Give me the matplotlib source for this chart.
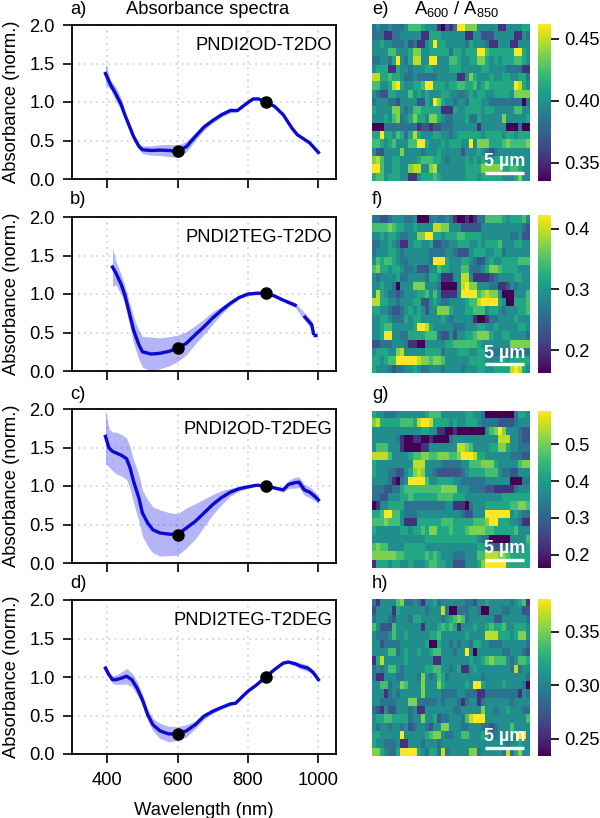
import numpy as np
import matplotlib
matplotlib.use('Agg')
import matplotlib.pyplot as plt

plt.rcParams['font.family'] = ['Liberation Sans', 'DejaVu Sans']
plt.rcParams['mathtext.default'] = 'regular'
plt.rcParams['font.size'] = 13.2

# Spectra: wavelength (nm), mean, band half width
wl_a = [395, 410, 425, 440, 450, 475, 490, 500, 525, 550, 575, 600, 625, 650, 675, 700, 725, 750, 770, 800, 815, 830, 850, 875, 900, 925, 940, 975, 1000]
abs_a = [1.37, 1.22, 1.10, 0.965, 0.835, 0.55, 0.425, 0.38, 0.37, 0.375, 0.37, 0.36, 0.42, 0.55, 0.675, 0.76, 0.835, 0.89, 0.89, 0.995, 1.04, 1.04, 1.0, 0.945, 0.835, 0.66, 0.575, 0.47, 0.345]
err_a = [0.14, 0.06, 0.09, 0.08, 0.04, 0.03, 0.04, 0.05, 0.06, 0.07, 0.08, 0.08, 0.07, 0.05, 0.04, 0.03, 0.03, 0.03, 0.02, 0.01, 0.01, 0.01, 0.01, 0.01, 0.01, 0.01, 0.01, 0.01, 0.01]

wl_b = [415, 425, 440, 450, 475, 490, 500, 525, 550, 575, 600, 625, 650, 675, 700, 725, 750, 775, 800, 825, 850, 875, 900, 934, 945, 962, 981, 986, 988, 991, 993]
abs_b = [1.35, 1.27, 1.12, 0.99, 0.53, 0.34, 0.25, 0.22, 0.23, 0.255, 0.295, 0.36, 0.47, 0.575, 0.69, 0.79, 0.88, 0.955, 1.0, 1.01, 1.01, 0.975, 0.92, 0.855, np.nan, 0.70, 0.60, 0.49, np.nan, 0.46, 0.46]
err_b = [0.25, 0.15, 0.13, 0.12, 0.17, 0.19, 0.2, 0.22, 0.2, 0.19, 0.17, 0.15, 0.12, 0.1, 0.08, 0.05, 0.03, 0.02, 0.02, 0.02, 0.02, 0.02, 0.02, 0.03, 0.03, 0.05, 0.05, 0.04, 0.03, 0.01, 0.01]

wl_c = [395, 405, 415, 425, 440, 455, 465, 475, 490, 500, 515, 530, 550, 575, 600, 625, 650, 675, 700, 725, 750, 775, 800, 825, 850, 875, 900, 915, 930, 945, 960, 975, 990, 1000]
abs_c = [1.645, 1.495, 1.45, 1.43, 1.40, 1.355, 1.235, 1.06, 0.845, 0.65, 0.52, 0.43, 0.39, 0.375, 0.37, 0.455, 0.54, 0.65, 0.76, 0.85, 0.92, 0.965, 0.99, 1.01, 1.0, 0.975, 0.95, 1.02, 1.04, 1.05, 0.95, 0.92, 0.865, 0.82]
err_c = [0.35, 0.25, 0.25, 0.27, 0.27, 0.27, 0.27, 0.28, 0.3, 0.3, 0.3, 0.3, 0.3, 0.28, 0.27, 0.26, 0.23, 0.18, 0.13, 0.09, 0.05, 0.03, 0.02, 0.01, 0.01, 0.02, 0.03, 0.05, 0.07, 0.07, 0.07, 0.07, 0.06, 0.05]

wl_d = [395, 405, 415, 425, 440, 455, 470, 485, 500, 515, 530, 550, 575, 600, 625, 650, 675, 700, 725, 750, 765, 785, 800, 825, 850, 875, 900, 915, 935, 950, 970, 985, 1000]
abs_d = [1.115, 1.03, 0.965, 0.965, 0.985, 1.01, 0.965, 0.855, 0.705, 0.51, 0.38, 0.30, 0.26, 0.265, 0.30, 0.38, 0.49, 0.555, 0.605, 0.65, 0.66, 0.75, 0.815, 0.90, 1.0, 1.095, 1.18, 1.195, 1.17, 1.14, 1.115, 1.06, 0.965]
err_d = [0.06, 0.03, 0.05, 0.06, 0.08, 0.1, 0.09, 0.09, 0.07, 0.07, 0.08, 0.1, 0.1, 0.09, 0.08, 0.05, 0.04, 0.03, 0.02, 0.02, 0.01, 0.01, 0.01, 0.01, 0.005, 0.005, 0.01, 0.02, 0.03, 0.04, 0.04, 0.03, 0.03]

mark_wl = [600, 850]
mark_a = [0.36, 1.0]
mark_b = [0.295, 1.01]
mark_c = [0.37, 1.0]
mark_d = [0.265, 1.0]

names = ['PNDI2OD-T2DO', 'PNDI2TEG-T2DO', 'PNDI2OD-T2DEG', 'PNDI2TEG-T2DEG']

# Ratio maps, 19 rows x 39 columns, read as levels 0-9 between the colourbar ends
map_e = [
    "3433433346 6654441021 3997774444 411444455",
    "3331133444 4411555444 4441144222 444441143",
    "4454433342 3114595544 4443544431 144411444",
    "4444664445 7744555553 5545559965 555559954",
    "3344359435 8844994446 6544557754 545556654",
    "4555115443 4445544445 5544444554 444333311",
    "8855655433 4333334444 4114754445 445544553",
    "6644589544 5569955545 5665564565 555559854",
    "4322554446 4545444554 4334545544 555547777",
    "3444332444 4225497544 3443555443 333333303",
    "5444477434 6655555111 5445555455 444446644",
    "4445467345 7554775433 4445335444 447444445",
    "0003333333 3122122333 4444441444 444000300",
    "5595546535 8544455443 4555555455 554554555",
    "6654564446 6995444545 5544947775 556766667",
    "4224444744 4434445444 4424445432 344444444",
    "7864455444 4566655434 4445454544 555544444",
    "9964455447 8844784444 4445555777 775566544",
    "5664555441 1455565444 4445554555 554445744",
]
map_f = [
    "3322344433 4000343343 1001013366 665455564",
    "6666765544 5444488774 4422222444 444444432",
    "4454554334 4779955455 5665555444 444433422",
    "3344543114 5544522334 4555445455 564445544",
    "3444554344 4444333344 3222455544 553444444",
    "4656654334 4444399954 4455432245 445555666",
    "6755455433 4222446554 4466333457 765555444",
    "4344445334 4443554111 4488411112 344445544",
    "4454430444 7774443000 0489774443 311243444",
    "4854332344 4556464111 1499996787 740004446",
    "8855443444 5522454334 4445668999 954005556",
    "5544322345 4542447775 4445566645 543444556",
    "4455433354 5544444543 4444410013 344445444",
    "4456644444 5998544444 3334445544 544444554",
    "4459944335 5556663224 2445567775 445544443",
    "2233344431 1004444455 6666665444 444477777",
    "4555447844 4445555344 4555445533 333333333",
    "5545669999 9877677644 4444555544 445455555",
    "5444323344 5433444344 4434445544 555589854",
]
map_g = [
    "5443334444 4445666444 4445544300 000003554",
    "7855555666 5899855554 5445554333 322223444",
    "4444444444 4455441100 1000000046 797444322",
    "4444443100 1100100003 4444444444 488844322",
    "4666444100 0011444444 4887644445 577544333",
    "8888644445 6677667776 6799985544 444433322",
    "5444444444 8884444333 3344666777 544444677",
    "5444332245 7874432222 2234555566 643322444",
    "4444310349 9996445555 4433333344 444400033",
    "3332233566 6666666777 7444333322 111113444",
    "3322444556 5555556666 5554444444 445555555",
    "0144555533 3333333344 1110344455 555566776",
    "5569966433 3444444444 4432244499 999945433",
    "6667666411 1555555666 5555566679 955544311",
    "5444444554 5565775556 5556777766 555556444",
    "4444444444 4445555555 5555554330 000044446",
    "6766444455 5554444444 4444445533 223344445",
    "7777776655 5556565444 3334446688 877655555",
    "1555455445 4445665544 2224445799 999555555",
]
map_h = [
    "3144446733 4314453444 4443324454 444434561",
    "2444415444 4443444830 0333443004 443344422",
    "3444324443 5544444345 6763444444 224444443",
    "6422264444 4414445656 5144454456 556445554",
    "4333464454 4444556444 4445444488 855545774",
    "4423333444 4445005443 4344355443 334444443",
    "4444663454 4544566444 3449404444 443344432",
    "1584444454 4444411444 4444544567 666434665",
    "3434664344 4445566443 4511454444 444438344",
    "3114443344 4374346534 4444444344 444444443",
    "4466344764 4474447544 4445499544 445444430",
    "4441343444 4474444333 3443331133 333333143",
    "4433334447 7333334344 4313441344 444434444",
    "3214224443 4114444444 3344444744 344544433",
    "4556655553 4474452334 4436899944 444444446",
    "4344344342 3443244774 4433444332 344464444",
    "5544444944 4445677433 4466444553 344444994",
    "5443334114 4434443444 4444444444 444344544",
    "7754335999 9543553834 4444773444 443835744",
]
range_e = (0.335, 0.462)
range_f = (0.163, 0.422)
range_g = (0.164, 0.591)
range_h = (0.234, 0.381)
ticks_e = [0.35, 0.40, 0.45]
ticks_f = [0.2, 0.3, 0.4]
ticks_g = [0.2, 0.3, 0.4, 0.5]
ticks_h = [0.25, 0.30, 0.35]
tick_fmt = ['%.2f', '%.1f', '%.1f', '%.2f']


def px_axes(fig, x0, y0, x1, y1):
    # axes from pixel box, y measured from the top of the image
    w, h = fig.canvas.get_width_height()
    return fig.add_axes([x0 / w, 1 - y1 / h, (x1 - x0) / w, (y1 - y0) / h])


def to_values(rows, vrange):
    levels = np.array([[int(c) for c in r.replace(' ', '')] for r in rows], dtype=float)
    # middle levels were read a little low, the power lifts them towards green
    return vrange[0] + (levels / 9) ** 0.88 * (vrange[1] - vrange[0])


fig = plt.figure(figsize=(6, 8.18), dpi=100)

spectra = [(wl_a, abs_a, err_a, mark_a), (wl_b, abs_b, err_b, mark_b),
           (wl_c, abs_c, err_c, mark_c), (wl_d, abs_d, err_d, mark_d)]
maps = [(map_e, range_e, ticks_e), (map_f, range_f, ticks_f),
        (map_g, range_g, ticks_g), (map_h, range_h, ticks_h)]
left_tops = [(25, 179), (217, 371), (409, 563), (600, 754)]
map_tops = [(23.7, 181.3), (215.3, 372.7), (410.7, 568), (598.7, 756)]
label_y = [9, 200, 394, 584]
left_labels = ['a)', 'b)', 'c)', 'd)']
right_labels = ['e)', 'f)', 'g)', 'h)']

for i in range(4):
    wl, mean, err, mark = spectra[i]
    wl, mean, err = np.array(wl), np.array(mean), np.array(err)
    y0, y1 = left_tops[i]
    ax = px_axes(fig, 72, y0, 336, y1)
    filled = ~np.isnan(mean)
    ax.fill_between(wl[filled], mean[filled] - err[filled], mean[filled] + err[filled],
                    color='#2a2ae6', alpha=0.35, lw=0)
    ax.plot(wl, mean, color='#0a0ad2', lw=2.4)
    ax.plot(mark_wl, mark, 'o', color='black', ms=8, zorder=5)
    ax.set_xlim(300, 1050)
    ax.set_ylim(0, 2)
    ax.set_xticks([400, 600, 800, 1000])
    ax.set_yticks([0, 0.5, 1, 1.5, 2])
    ax.set_yticklabels(['0.0', '0.5', '1.0', '1.5', '2.0'])
    ax.grid(True, color='#c8c8c8', lw=1.1, ls=(0, (1, 3)))
    ax.set_axisbelow(True)
    ax.tick_params(length=6.5, width=1.2, labelsize=13.2)
    ax.tick_params(axis='y', pad=6)
    ax.tick_params(axis='x', pad=6.5)
    for s in ax.spines.values():
        s.set_linewidth(1.3)
    ax.set_ylabel('Absorbance (norm.)', fontsize=13.2, labelpad=6.5)
    ax.text(0.985, 0.865, names[i], transform=ax.transAxes, ha='right', va='center', fontsize=13.2)
    if i < 3:
        ax.tick_params(axis='x', labelbottom=False)
    else:
        ax.set_xlabel('Wavelength (nm)', fontsize=13.2, labelpad=9)
    fig.text(70 / 600, 1 - label_y[i] / 818, left_labels[i], fontsize=13.2, va='center')

    rows, vrange, ticks = maps[i]
    y0, y1 = map_tops[i]
    hm = px_axes(fig, 372.3, y0, 530, y1)
    im = hm.imshow(to_values(rows, vrange), cmap='viridis', vmin=vrange[0], vmax=vrange[1],
                   aspect='auto', interpolation='nearest')
    hm.set_xticks([])
    hm.set_yticks([])
    for s in hm.spines.values():
        s.set_visible(False)
    hm.plot([0.715, 0.962], [0.053, 0.053], color='white', lw=2.4,
            solid_capstyle='butt', transform=hm.transAxes)
    hm.text(0.837, 0.125, '5 µm', color='white', fontsize=13, fontweight='bold',
            ha='center', va='center', transform=hm.transAxes)
    cax = px_axes(fig, 537.7, y0, 550.7, y1)
    cb = fig.colorbar(im, cax=cax)
    cb.set_ticks(ticks)
    cb.set_ticklabels([tick_fmt[i] % t for t in ticks])
    cb.outline.set_visible(False)
    cb.ax.tick_params(length=5.5, width=1.2, labelsize=13.2, pad=4)
    fig.text(372 / 600, 1 - label_y[i] / 818, right_labels[i], fontsize=13.2, va='center')

fig.text(207.7 / 600, 1 - 9 / 818, 'Absorbance spectra', fontsize=13.2, ha='center', va='center')
fig.text(457 / 600, 1 - 9 / 818, 'A$_{600}$ / A$_{850}$', fontsize=13.2, ha='center', va='center')

fig.savefig('out.png', dpi=100)
